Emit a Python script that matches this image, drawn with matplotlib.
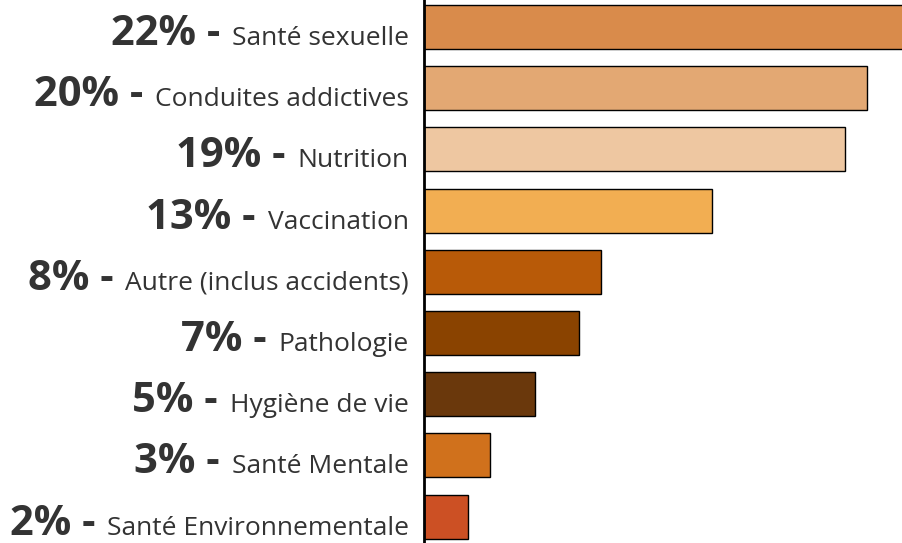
import matplotlib
matplotlib.use("Agg")
import matplotlib.pyplot as plt

categories = ["Santé sexuelle", "Conduites addictives", "Nutrition", "Vaccination",
              "Autre (inclus accidents)", "Pathologie", "Hygiène de vie",
              "Santé Mentale", "Santé Environnementale"]
values = [22, 20, 19, 13, 8, 7, 5, 3, 2]
colors = ["#D98B4B", "#E3A873", "#EEC7A1", "#F2AE52", "#B85A08",
          "#8A4300", "#6A380C", "#D0711C", "#CC5024"]

plt.rcParams['font.family'] = ['Open Sans', 'DejaVu Sans']
fig = plt.figure(figsize=(9.02, 5.43), dpi=100)
ax = fig.add_axes([424/902, 0, 1 - 424/902, 1])

y = list(range(len(categories)))
ax.barh(y, values, height=0.72, color=colors, edgecolor="black", linewidth=1)
ax.set_xlim(0, (902 - 424) / 22.15)
ax.set_ylim(len(categories) - 1 + 0.43, -0.44)
for s in ["top", "right", "bottom"]:
    ax.spines[s].set_visible(False)
ax.spines["left"].set_linewidth(2)
ax.set_xticks([])
ax.set_yticks([])

txtcol = "#333333"
regs = []
for i, (c, v) in enumerate(zip(categories, values)):
    t = ax.annotate(c, xy=(0, i), xytext=(-15, -18), textcoords="offset pixels",
                    ha="right", va="baseline", fontsize=19, color=txtcol,
                    annotation_clip=False)
    regs.append(t)
fig.canvas.draw()
r = fig.canvas.get_renderer()
for i, (t, v) in enumerate(zip(regs, values)):
    bb = t.get_window_extent(r)
    x0_disp = ax.transData.transform((0, i))[0]
    off = bb.x0 - x0_disp - 12
    ax.annotate(f"{v}% -", xy=(0, i), xytext=(off, -18), textcoords="offset pixels",
                ha="right", va="baseline", fontsize=30, fontweight="bold",
                color=txtcol, annotation_clip=False)

fig.savefig("out.png", dpi=100)
